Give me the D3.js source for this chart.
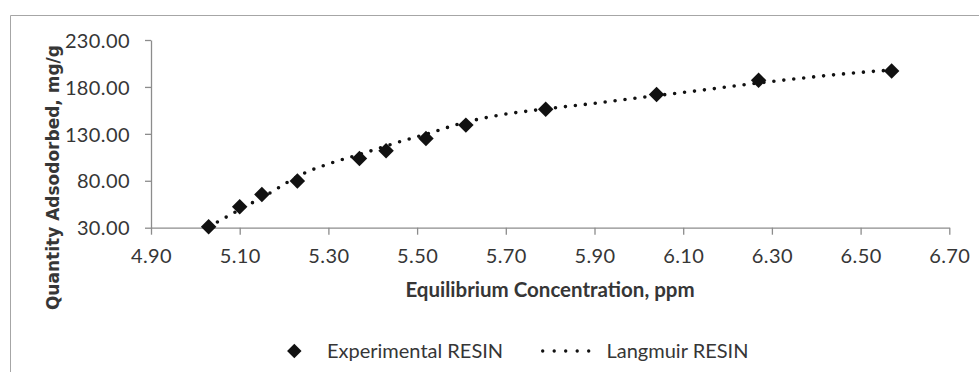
<!DOCTYPE html>
<html>
<head>
<meta charset="utf-8">
<script src="https://cdn.jsdelivr.net/npm/d3@7"></script>
<style>
  html, body { margin: 0; padding: 0; background: #fff; }
  svg { display: block; }
</style>
</head>
<body>
<svg id="chart" width="979" height="372"></svg>
<script>
// Experimental adsorption data (equilibrium concentration, ppm -> quantity adsorbed, mg/g)
const expConc = [5.03, 5.10, 5.15, 5.23, 5.37, 5.43, 5.52, 5.61, 5.79, 6.04, 6.27, 6.57];
const expQty  = [31.0, 52.3, 65.5, 79.8, 103.8, 111.9, 125.1, 139.3, 156.3, 171.9, 187.1, 197.0];

// Langmuir model curve
const langConc = [5.03, 5.08, 5.13, 5.17, 5.21, 5.25, 5.30, 5.37, 5.46, 5.53, 5.59, 5.68, 5.77, 5.90, 6.01, 6.15, 6.24, 6.37, 6.50, 6.57];
const langQty  = [31.0, 44.0, 57.0, 67.5, 79.0, 89.0, 98.0, 108.0, 121.5, 131.0, 140.0, 149.5, 155.5, 162.5, 169.0, 177.0, 182.5, 189.5, 195.5, 198.0];

// Axis ticks
const xTicks = [4.90, 5.10, 5.30, 5.50, 5.70, 5.90, 6.10, 6.30, 6.50, 6.70];
const yTicks = [30, 80, 130, 180, 230];

const xTitle = "Equilibrium Concentration, ppm";
const yTitle = "Quantity Adsodorbed, mg/g";
const seriesNames = ["Experimental RESIN", "Langmuir RESIN"];

const svg = d3.select("#chart");
const axisColor = "#8c8c8c";
const textColor = "#363636";
const markColor = "#111111";
const labelFont = "Lato, sans-serif";

// Chart frame
svg.append("path")
  .attr("d", "M10.5,372 L10.5,15.5 L979,15.5")
  .attr("fill", "none")
  .attr("stroke", "#a6a6a6")
  .attr("stroke-width", 1);

const x = d3.scaleLinear().domain([4.9, 6.7]).range([151, 949.3]);
const y = d3.scaleLinear().domain([30, 230]).range([227.7, 40]);

// X axis
const gx = svg.append("g").attr("transform", `translate(0,${y(30)})`)
  .call(d3.axisBottom(x).tickValues(xTicks).tickFormat(d3.format(".2f")).tickSizeInner(7).tickSizeOuter(0).tickPadding(14));
// Y axis
const gy = svg.append("g").attr("transform", `translate(${x(4.9)},0)`)
  .call(d3.axisLeft(y).tickValues(yTicks).tickFormat(d3.format(".2f")).tickSizeInner(6).tickSizeOuter(0).tickPadding(15));

[gx, gy].forEach(g => {
  g.select(".domain").attr("stroke", axisColor).attr("stroke-width", 1.3);
  g.selectAll(".tick line").attr("stroke", axisColor).attr("stroke-width", 1.3);
  g.selectAll(".tick text")
    .attr("fill", textColor)
    .style("font-family", labelFont)
    .style("font-size", "20px")
    .style("letter-spacing", "0.4px");
});
gy.selectAll(".tick text").attr("dy", "0.36em");

// Axis titles
svg.append("text")
  .attr("x", 550).attr("y", 297)
  .attr("text-anchor", "middle")
  .attr("fill", textColor)
  .style("font-family", labelFont)
  .style("font-weight", "bold")
  .style("font-size", "20.5px")
  .text(xTitle);

svg.append("text")
  .attr("transform", "translate(59,45) rotate(-90)")
  .attr("text-anchor", "end")
  .attr("fill", textColor)
  .style("font-family", "'DejaVu Sans', sans-serif")
  .style("font-weight", "bold")
  .style("font-size", "17px")
  .text(yTitle);

// Langmuir curve (dotted)
const langPts = langConc.map((c, i) => [c, langQty[i]]);
const line = d3.line().x(d => x(d[0])).y(d => y(d[1])).curve(d3.curveMonotoneX);
svg.append("path")
  .datum(langPts)
  .attr("d", line)
  .attr("fill", "none")
  .attr("stroke", markColor)
  .attr("stroke-width", 3.6)
  .attr("stroke-linecap", "round")
  .attr("stroke-dasharray", "0 10");

// Experimental points (diamonds)
const diamond = d3.symbol().type(d3.symbolSquare).size(120);
svg.append("g").selectAll("path")
  .data(expConc.map((c, i) => [c, expQty[i]]))
  .join("path")
  .attr("d", diamond)
  .attr("transform", d => `translate(${x(d[0])},${y(d[1])}) rotate(45)`)
  .attr("fill", markColor);

// Legend
const legend = svg.append("g");
legend.append("path")
  .attr("d", d3.symbol().type(d3.symbolSquare).size(105))
  .attr("transform", "translate(294.3,351) rotate(45)")
  .attr("fill", markColor);
legend.append("text")
  .attr("x", 327).attr("y", 351).attr("dy", "0.36em")
  .attr("fill", textColor)
  .style("font-family", labelFont)
  .style("font-size", "20px")
  .text(seriesNames[0]);
legend.append("line")
  .attr("x1", 542.7).attr("x2", 600.2).attr("y1", 351).attr("y2", 351)
  .attr("stroke", markColor)
  .attr("stroke-width", 3.4)
  .attr("stroke-linecap", "round")
  .attr("stroke-dasharray", "0 11.5");
legend.append("text")
  .attr("x", 606.5).attr("y", 351).attr("dy", "0.36em")
  .attr("fill", textColor)
  .style("font-family", labelFont)
  .style("font-size", "20px")
  .text(seriesNames[1]);
</script>
</body>
</html>
